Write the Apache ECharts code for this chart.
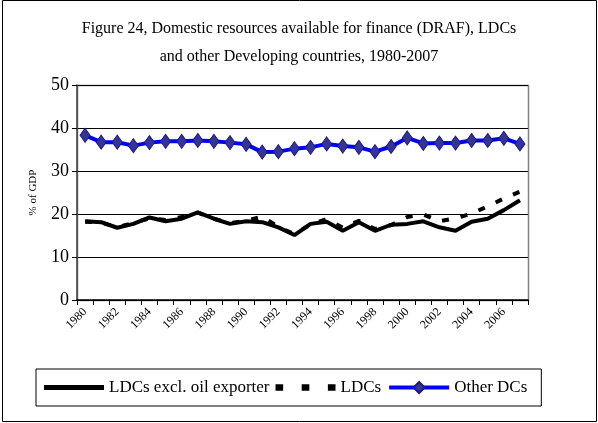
<!DOCTYPE html>
<html>
<head>
<meta charset="utf-8">
<script src="https://cdn.jsdelivr.net/npm/echarts@6/dist/echarts.min.js"></script>
<style>
  html, body { margin: 0; padding: 0; background: #fff; }
  #main { width: 598px; height: 423px; }
</style>
</head>
<body>
<div id="main"></div>
<script>
var years = ['1980','1981','1982','1983','1984','1985','1986','1987','1988','1989',
             '1990','1991','1992','1993','1994','1995','1996','1997','1998','1999',
             '2000','2001','2002','2003','2004','2005','2006','2007'];

// LDCs excl. oil exporter (% of GDP)
var ldcsExclOil = [18.3, 18.1, 16.8, 17.7, 19.2, 18.3, 18.9, 20.4, 18.9, 17.7,
                   18.3, 18.1, 16.9, 15.1, 17.7, 18.2, 16.1, 18.1, 16.1, 17.5,
                   17.7, 18.3, 16.9, 16.1, 18.2, 18.9, 20.9, 23.2];

// LDCs
var ldcs = [18.2, 18.0, 16.9, 17.9, 19.0, 18.6, 19.3, 20.3, 18.9, 17.9,
            18.4, 19.4, 17.0, 15.3, 17.6, 18.8, 16.8, 18.4, 16.5, 17.4,
            19.3, 19.9, 18.3, 19.0, 20.1, 21.8, 23.6, 25.2];

// Other DCs
var otherDCs = [38.3, 36.7, 36.7, 35.9, 36.6, 36.9, 36.9, 37.1, 36.9, 36.6,
                36.2, 34.4, 34.5, 35.2, 35.5, 36.3, 35.8, 35.5, 34.5, 35.7,
                37.7, 36.4, 36.5, 36.5, 37.1, 37.1, 37.6, 36.3];

var yTicks = [0, 10, 20, 30, 40, 50];

var serif = '"Liberation Serif", "Times New Roman", serif';

var myChart = echarts.init(document.getElementById('main'));

var option = {
    backgroundColor: '#fff',
    animation: false,
    textStyle: { fontFamily: serif },
    title: {
        text: 'Figure 24, Domestic resources available for finance (DRAF), LDCs\nand other Developing countries, 1980-2007',
        left: 294,
        textAlign: 'center',
        top: 10,
        textStyle: {
            fontFamily: serif,
            fontWeight: 'normal',
            fontSize: 16,
            lineHeight: 28,
            color: '#000'
        }
    },
    graphic: [
        {
            type: 'rect',
            shape: { x: 2.5, y: 0.5, width: 594, height: 421 },
            style: { fill: 'none', stroke: '#000', lineWidth: 1 },
            silent: true
        },
        {
            type: 'rect',
            shape: { x: 77.5, y: 85.5, width: 451, height: 215 },
            style: { fill: 'none', stroke: '#808080', lineWidth: 1.5 },
            silent: true,
            z: 0
        }
    ],
    legend: {
        left: 36,
        top: 369,
        width: 509,
        height: 37,
        padding: [10, 14, 10, 8],
        borderColor: '#000',
        borderWidth: 1,
        itemGap: 6,
        itemWidth: 60,
        itemHeight: 14,
        textStyle: { fontFamily: serif, fontSize: 17, color: '#000' },
        data: [
            { name: 'LDCs excl. oil exporter', icon: 'path://M0,0 L60,0 L60,5 L0,5 Z' },
            { name: 'LDCs', icon: 'path://M0,0h7v6h-7z M24,0h7v6h-7z M48,0h7v6h-7z' },
            { name: 'Other DCs', lineStyle: { width: 4, color: '#0000ff' } }
        ]
    },
    grid: {
        left: 77,
        right: 70,
        top: 85,
        bottom: 123,
        containLabel: false
    },
    xAxis: {
        type: 'category',
        data: years,
        boundaryGap: true,
        axisLine: { lineStyle: { color: '#000', width: 1.5 } },
        axisTick: { show: true, interval: 0, length: 5, inside: false, lineStyle: { color: '#000' } },
        axisLabel: {
            interval: 1,
            rotate: 45,
            fontSize: 12,
            fontFamily: serif,
            color: '#000',
            margin: 10
        },
        splitLine: { show: false }
    },
    yAxis: {
        type: 'value',
        min: yTicks[0],
        max: yTicks[yTicks.length - 1],
        interval: 10,
        name: '% of GDP',
        nameLocation: 'middle',
        nameGap: 38,
        nameRotate: 90,
        nameTextStyle: { fontFamily: serif, fontSize: 11, color: '#000' },
        axisLine: { show: true, lineStyle: { color: '#404040', width: 1.5 } },
        axisTick: { show: true, length: 5, lineStyle: { color: '#000' } },
        axisLabel: { fontSize: 18, fontFamily: serif, color: '#000', margin: 8 },
        splitLine: { show: true, lineStyle: { color: '#000', width: 1 } }
    },
    series: [
        {
            name: 'LDCs',
            type: 'line',
            data: ldcs,
            symbol: 'none',
            itemStyle: { color: '#000' },
            lineStyle: { color: '#000', width: 4, type: [7, 12] },
            z: 2
        },
        {
            name: 'LDCs excl. oil exporter',
            type: 'line',
            data: ldcsExclOil,
            symbol: 'none',
            itemStyle: { color: '#000' },
            lineStyle: { color: '#000', width: 4 },
            z: 3
        },
        {
            name: 'Other DCs',
            type: 'line',
            data: otherDCs,
            symbol: 'diamond',
            symbolSize: [10, 14],
            showAllSymbol: true,
            itemStyle: { color: '#333399', borderColor: '#1a1a80', borderWidth: 1 },
            lineStyle: { color: '#0000ff', width: 4 },
            z: 4
        }
    ]
};

myChart.setOption(option);
</script>
</body>
</html>
